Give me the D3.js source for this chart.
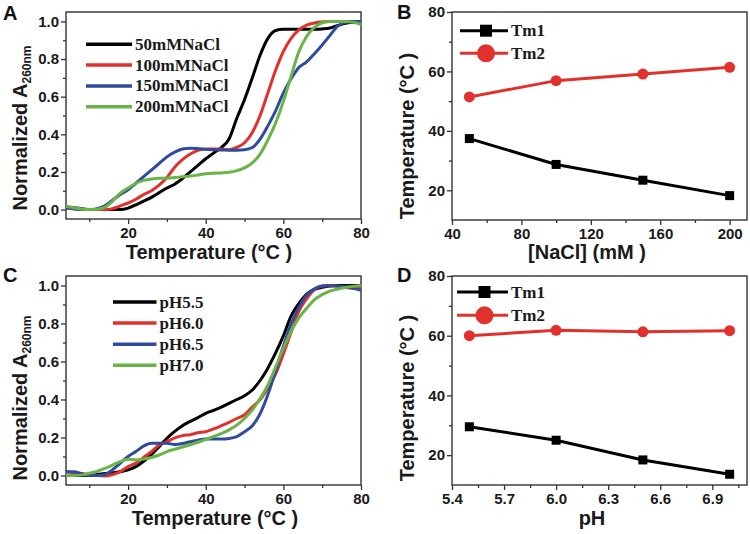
<!DOCTYPE html>
<html>
<head>
<meta charset="utf-8">
<script src="https://cdn.jsdelivr.net/npm/d3@7"></script>
<style>
body { margin: 0; background: #fff; }
svg { display: block; }
.tick text { font-family: "Liberation Sans", Arial, sans-serif; font-weight: bold; font-size: 15px; fill: #1a1a1a; }
.tick line { stroke: #333; stroke-width: 1.3; }
.title { font-family: "Liberation Sans", Arial, sans-serif; font-weight: bold; font-size: 20px; fill: #1a1a1a; }
.letter { font-family: "Liberation Sans", Arial, sans-serif; font-weight: bold; font-size: 20px; fill: #111; }
.leg { font-family: "Liberation Serif", "Times New Roman", serif; font-weight: bold; font-size: 17px; fill: #1a1a1a; }
</style>
</head>
<body>
<div id="chart"></div>
<script>
var svgWidth = 750;
var svgHeight = 534;

// melting curves, read every 2 degC
var temps = [4,6,8,10,12,14,16,18,20,22,24,26,28,30,32,34,36,38,40,42,44,46,48,50,52,54,56,58,60,62,64,66,68,70,72,74,76,78,80];

var nacl50 = [0.01,0.01,0.005,0,0,0,0,0,0.008,0.025,0.045,0.065,0.09,0.115,0.135,0.165,0.2,0.235,0.27,0.3,0.33,0.375,0.485,0.585,0.7,0.82,0.91,0.952,0.958,0.958,0.958,0.958,0.958,0.96,0.965,0.978,0.99,0.995,0.995];
var nacl100 = [0.01,0.005,0,0,0,0,0.005,0.02,0.035,0.055,0.08,0.1,0.13,0.17,0.225,0.265,0.295,0.315,0.322,0.322,0.322,0.318,0.33,0.355,0.41,0.5,0.62,0.74,0.84,0.91,0.955,0.98,0.992,0.997,1,1,1,1,1];
var nacl150 = [0.01,0.005,0,0,0.005,0.02,0.05,0.08,0.105,0.14,0.175,0.21,0.245,0.28,0.305,0.322,0.326,0.324,0.32,0.318,0.317,0.316,0.316,0.318,0.33,0.375,0.445,0.525,0.62,0.695,0.755,0.785,0.828,0.875,0.925,0.975,0.995,1,1];
var nacl200 = [0.018,0.01,0.003,0,0.002,0.012,0.045,0.088,0.115,0.14,0.155,0.163,0.167,0.167,0.17,0.175,0.178,0.184,0.19,0.193,0.195,0.198,0.207,0.222,0.248,0.295,0.37,0.46,0.575,0.71,0.84,0.92,0.968,0.993,1,1,1,0.995,0.985];

var ph55 = [0,0,0,0,0.005,0.01,0.015,0.02,0.03,0.047,0.075,0.11,0.152,0.196,0.232,0.262,0.285,0.305,0.327,0.343,0.36,0.38,0.4,0.42,0.45,0.5,0.565,0.645,0.735,0.84,0.905,0.955,0.98,0.99,0.997,1,1,1,1];
var ph60 = [0.02,0.015,0.01,0.005,0,-0.003,0.005,0.02,0.047,0.065,0.095,0.125,0.16,0.178,0.198,0.21,0.215,0.225,0.23,0.245,0.262,0.28,0.3,0.32,0.36,0.4,0.46,0.535,0.64,0.755,0.865,0.93,0.978,0.997,1,0.995,0.99,0.985,0.985];
var ph65 = [0.02,0.02,0.01,0,0,0.005,0.03,0.065,0.1,0.126,0.155,0.17,0.17,0.17,0.163,0.168,0.178,0.186,0.192,0.192,0.192,0.195,0.205,0.23,0.262,0.325,0.425,0.55,0.68,0.8,0.885,0.95,0.982,0.997,1,0.998,0.993,0.985,0.975];
var ph70 = [0,0,0.002,0.012,0.022,0.038,0.055,0.073,0.086,0.082,0.087,0.095,0.108,0.126,0.138,0.15,0.162,0.175,0.19,0.205,0.22,0.24,0.265,0.3,0.345,0.405,0.475,0.57,0.67,0.76,0.83,0.88,0.925,0.952,0.97,0.982,0.99,0.996,1];

var naclLabels = ["50mMNaCl", "100mMNaCl", "150mMNaCl", "200mMNaCl"];
var phLabels = ["pH5.5", "pH6.0", "pH6.5", "pH7.0"];
var curveColors = ["#000000", "#e2312d", "#2f4a9f", "#68b446"];

// Tm values
var naclConc = [50, 100, 150, 200];
var naclTm1 = [37.4, 28.7, 23.4, 18.2];
var naclTm2 = [51.4, 56.9, 59.1, 61.4];
var phValues = [5.5, 6.0, 6.5, 7.0];
var phTm1 = [29.5, 25.0, 18.4, 13.6];
var phTm2 = [60.0, 61.8, 61.3, 61.7];
var tmLabels = ["Tm1", "Tm2"];

var svg = d3.select("#chart")
  .append("svg")
  .attr("width", svgWidth)
  .attr("height", svgHeight);

var boxA = {x0: 66, x1: 361, y0: 12, y1: 219};
var boxB = {x0: 452, x1: 747, y0: 12, y1: 220};
var boxC = {x0: 66, x1: 361, y0: 276, y1: 485};
var boxD = {x0: 452, x1: 747, y0: 276, y1: 485};

function drawAxes(box, x, y, xMajor, xMinor, yMajor, yMinor, xFmt, yFmt) {
  var g = svg.append("g");
  g.append("g")
    .attr("transform", "translate(0," + box.y1 + ")")
    .call(d3.axisBottom(x).tickValues(xMinor).tickSize(3).tickSizeOuter(0).tickFormat(""))
    .select(".domain").remove();
  g.append("g")
    .attr("transform", "translate(0," + box.y1 + ")")
    .call(d3.axisBottom(x).tickValues(xMajor).tickSize(5).tickSizeOuter(0).tickPadding(3).tickFormat(xFmt))
    .select(".domain").remove();
  g.append("g")
    .attr("transform", "translate(" + box.x0 + ",0)")
    .call(d3.axisLeft(y).tickValues(yMinor).tickSize(3).tickSizeOuter(0).tickFormat(""))
    .select(".domain").remove();
  g.append("g")
    .attr("transform", "translate(" + box.x0 + ",0)")
    .call(d3.axisLeft(y).tickValues(yMajor).tickSize(5).tickSizeOuter(0).tickPadding(2).tickFormat(yFmt))
    .select(".domain").remove();
  g.append("rect")
    .attr("x", box.x0).attr("y", box.y0)
    .attr("width", box.x1 - box.x0).attr("height", box.y1 - box.y0)
    .attr("fill", "none").attr("stroke", "#333").attr("stroke-width", 1.4);
}

function curvePanel(box, id, series, labels, legX0, legX1, legY, legStep) {
  var x = d3.scaleLinear().domain([4, 80]).range([box.x0, box.x1]);
  var y = d3.scaleLinear().domain([-0.05, 1.05]).range([box.y1, box.y0]);
  drawAxes(box, x, y, [20, 40, 60, 80], [10, 30, 50, 70],
    [0, 0.2, 0.4, 0.6, 0.8, 1.0], [0.1, 0.3, 0.5, 0.7, 0.9],
    d3.format("d"), d3.format(".1f"));

  svg.append("clipPath").attr("id", id)
    .append("rect")
    .attr("x", box.x0).attr("y", box.y0)
    .attr("width", box.x1 - box.x0).attr("height", box.y1 - box.y0);

  var line = d3.line()
    .x(function(d, i) { return x(temps[i]); })
    .y(function(d) { return y(d); })
    .curve(d3.curveMonotoneX);

  svg.append("g").attr("clip-path", "url(#" + id + ")")
    .selectAll("path").data(series).enter()
    .append("path")
    .attr("d", line)
    .attr("fill", "none")
    .attr("stroke", function(d, i) { return curveColors[i]; })
    .attr("stroke-width", 3)
    .attr("stroke-linejoin", "round");

  var leg = svg.append("g");
  labels.forEach(function(lab, i) {
    var ly = legY + i * legStep;
    leg.append("line")
      .attr("x1", legX0).attr("x2", legX1)
      .attr("y1", ly).attr("y2", ly)
      .attr("stroke", curveColors[i]).attr("stroke-width", 3.5);
    leg.append("text").attr("class", "leg")
      .attr("x", legX1 + 3).attr("y", ly + 5.5)
      .text(lab);
  });
}

function tmPanel(box, xs, tm1, tm2, xDomain, xMajor, xMinor, xFmt, legX0, legX1, legY, legStep) {
  var x = d3.scaleLinear().domain(xDomain).range([box.x0, box.x1]);
  var y = d3.scaleLinear().domain([10, 80]).range([box.y1, box.y0]);
  drawAxes(box, x, y, xMajor, xMinor, [20, 40, 60, 80], [30, 50, 70],
    xFmt, d3.format("d"));

  var line = d3.line()
    .x(function(d, i) { return x(xs[i]); })
    .y(function(d) { return y(d); });

  var colors = ["#000000", "#e2312d"];
  [tm1, tm2].forEach(function(s, k) {
    svg.append("path")
      .attr("d", line(s))
      .attr("fill", "none")
      .attr("stroke", colors[k])
      .attr("stroke-width", 3);
  });

  svg.append("g").selectAll("rect").data(tm1).enter()
    .append("rect")
    .attr("x", function(d, i) { return x(xs[i]) - 4.5; })
    .attr("y", function(d) { return y(d) - 4.5; })
    .attr("width", 9).attr("height", 9)
    .attr("fill", "#000");

  svg.append("g").selectAll("circle").data(tm2).enter()
    .append("circle")
    .attr("cx", function(d, i) { return x(xs[i]); })
    .attr("cy", function(d) { return y(d); })
    .attr("r", 5.5)
    .attr("fill", "#e2312d");

  var leg = svg.append("g");
  tmLabels.forEach(function(lab, k) {
    var ly = legY + k * legStep;
    var mx = (legX0 + legX1) / 2 + 2;
    leg.append("line")
      .attr("x1", legX0).attr("x2", legX1)
      .attr("y1", ly).attr("y2", ly)
      .attr("stroke", colors[k]).attr("stroke-width", 3);
    if (k === 0) {
      leg.append("rect")
        .attr("x", mx - 6).attr("y", ly - 6)
        .attr("width", 12).attr("height", 12)
        .attr("fill", "#000");
    } else {
      leg.append("circle")
        .attr("cx", mx).attr("cy", ly).attr("r", 9)
        .attr("fill", "#e2312d");
    }
    leg.append("text").attr("class", "leg")
      .attr("x", legX1 + 3).attr("y", ly + 5.5)
      .text(lab);
  });
}

curvePanel(boxA, "clipA", [nacl50, nacl100, nacl150, nacl200], naclLabels, 86, 132, 44.3, 20.8);
curvePanel(boxC, "clipC", [ph55, ph60, ph65, ph70], phLabels, 113, 156.5, 302, 21.1);

tmPanel(boxB, naclConc, naclTm1, naclTm2, [40, 210],
  [40, 80, 120, 160, 200], [60, 100, 140, 180], d3.format("d"),
  460, 508, 30.7, 22.6);
tmPanel(boxD, phValues, phTm1, phTm2, [5.4, 7.1],
  [5.4, 5.7, 6.0, 6.3, 6.6, 6.9], [5.55, 5.85, 6.15, 6.45, 6.75, 7.05], d3.format(".1f"),
  457, 508, 292, 23.3);

// axis titles
function xTitle(cx, by, txt) {
  svg.append("text").attr("class", "title")
    .attr("x", cx).attr("y", by)
    .attr("text-anchor", "middle")
    .text(txt);
}
function yTitle(bx, cy, txt, sub) {
  var t = svg.append("text").attr("class", "title")
    .attr("transform", "translate(" + bx + "," + cy + ")rotate(-90)")
    .attr("text-anchor", "middle")
    .text(txt);
  if (sub) {
    t.append("tspan")
      .attr("dy", 4)
      .style("font-size", "12px")
      .text(sub);
  }
}

xTitle(209, 259, "Temperature (°C )");
xTitle(215, 525, "Temperature (°C )");
xTitle(587, 259, "[NaCl] (mM )");
xTitle(592, 525, "pH");

yTitle(27, 128, "Normalized A", "260nm");
yTitle(27, 398, "Normalized A", "260nm");
yTitle(414, 136, "Temperature (°C )");
yTitle(414, 398, "Temperature (°C )");

// panel letters
[["A", 3, 20], ["B", 397, 19], ["C", 3, 282], ["D", 397, 282]].forEach(function(p) {
  svg.append("text").attr("class", "letter")
    .attr("x", p[1]).attr("y", p[2])
    .text(p[0]);
});
</script>
</body>
</html>
